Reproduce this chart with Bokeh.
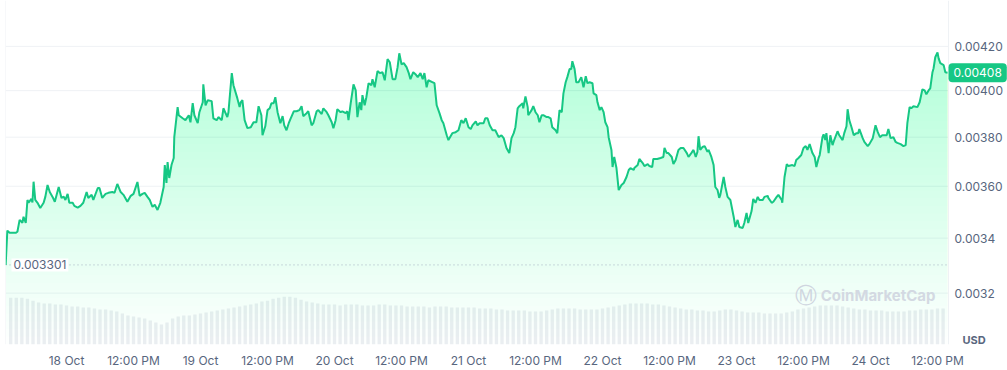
import numpy as np
from bokeh.plotting import figure
from bokeh.models import Range1d, LinearScale, FixedTicker, Span, Label
from bokeh.core.properties import value
from bokeh.embed import file_html
from bokeh.resources import INLINE

# ---- data (hours since 18 Oct 00:00, price in USD) ----
times = [-10.9,-10.6,-10.2,-9.1,-8.8,-8.4,-7.9,-7.7,-7.3,-7.0,-6.8,-6.3,-6.1,-5.9,-5.6,-5.2,-4.7,-4.1,-3.8,-3.4,-3.0,-2.5,-2.1,-1.4,-0.9,-0.5,-0.2,0.2,0.5,1.1,1.4,2.0,2.5,3.0,3.6,3.9,4.5,4.8,5.6,5.9,6.4,7.0,7.5,8.2,8.6,9.1,9.7,10.2,10.9,11.5,12.0,12.7,13.1,13.6,14.0,14.5,14.9,15.4,15.8,16.3,16.8,17.4,17.6,17.9,18.1,18.4,18.8,19.2,19.3,19.9,20.1,20.8,21.3,21.9,22.2,22.6,22.9,23.5,23.8,24.4,24.5,24.9,25.3,26.0,26.3,26.9,27.2,27.8,28.1,28.8,29.0,29.6,29.9,30.6,31.0,31.2,31.5,31.9,32.4,33.0,33.5,34.0,34.4,34.9,35.1,35.6,36.0,36.4,36.7,37.1,37.4,37.8,38.3,38.7,39.0,39.4,39.8,40.1,40.7,41.2,41.7,42.1,42.4,43.0,43.3,43.9,44.2,44.8,45.1,45.7,46.0,46.6,46.9,47.5,47.8,48.2,48.5,49.1,49.4,50.0,50.3,50.5,50.9,51.4,51.8,52.1,52.5,52.8,53.0,53.4,53.7,54.1,54.6,54.8,55.2,55.7,56.1,56.6,57.0,57.5,57.9,58.4,58.9,59.3,59.6,60.0,60.4,60.9,61.3,61.6,62.1,62.5,62.9,63.4,63.8,64.1,64.5,64.8,65.6,65.9,66.3,66.8,67.2,67.5,68.1,68.4,69.1,69.7,70.2,70.7,71.1,71.5,72.0,72.4,72.7,73.3,73.6,74.0,74.7,75.0,75.4,75.8,76.3,76.8,77.4,77.9,78.3,78.8,79.3,79.7,80.1,80.4,80.8,81.1,81.7,81.8,82.2,82.6,82.7,83.3,83.6,84.0,84.4,84.7,85.1,85.4,86.0,86.3,86.7,87.0,87.6,87.9,88.3,88.7,89.0,89.4,89.7,90.1,90.4,90.6,91.0,91.3,91.7,92.2,92.6,93.0,93.3,93.7,94.2,94.4,94.9,95.1,95.5,95.8,96.2,96.5,96.9,97.1,97.6,97.8,98.1,98.5,98.9,99.4,99.8,100.3,100.7,101.0,101.6,101.7,102.3,102.6,103.2,103.5,104.1,104.4,104.9,105.1,105.8,106.4,106.9,107.1,107.5,107.8,108.4,108.7,109.1,109.6,110.0,110.5,111.1,111.4,111.9,112.3,112.7,113.0,113.2,113.5,113.9,114.3,114.8,115.0,115.5,115.9,116.2,116.6,116.9,117.1,117.7,118.0,118.4,118.9,119.5,119.8,120.2,120.5,121.1,121.4,121.8,122.1,122.7,123.0,123.4,123.8,124.1,124.7,125.0,125.6,125.7,126.3,126.6,127.2,127.5,128.1,128.2,128.6,129.0,129.3,130.0,130.4,130.7,131.1,131.6,132.0,132.4,132.7,133.1,133.6,134.0,134.3,134.7,134.9,135.4,135.6,135.9,136.1,136.5,136.8,137.2,137.5,138.1,138.4,139.0,139.3,139.7,139.9,140.2,140.6,141.0,141.5,141.8,142.0,142.6,142.9,143.5,143.8,144.4,144.9,145.3,145.7,146.1,146.9,147.2,147.6,148.1,148.5,148.8,149.4,149.9,150.3,150.6,151.0,151.3,151.7,152.4,152.8,153.3,153.7,154.0,154.4,154.7,155.1,155.3,155.6,156.0,156.2,156.5,157.1,157.4,157.8]

price_micro = [3301,3428,3420,3420,3424,3469,3458,3481,3457,3546,3535,3550,3536,3618,3546,3535,3515,3535,3558,3605,3577,3558,3539,3597,3554,3559,3546,3570,3535,3535,3523,3516,3523,3535,3577,3554,3566,3546,3593,3593,3554,3570,3574,3577,3574,3609,3577,3566,3539,3562,3570,3617,3562,3570,3574,3558,3546,3519,3527,3507,3535,3597,3685,3613,3697,3633,3685,3714,3800,3928,3893,3880,3872,3893,3863,3945,3893,3859,3906,3949,4028,3936,3958,3954,3880,3872,3885,3872,3923,3885,3906,4078,4024,3966,3928,3949,3958,3872,3838,3842,3863,3863,3932,3893,3808,3846,3915,3923,3945,3945,3971,3906,3859,3889,3850,3829,3859,3876,3910,3910,3915,3932,3889,3902,3910,3850,3859,3910,3915,3898,3923,3906,3893,3863,3838,3872,3919,3906,3910,3902,3910,3872,3945,4028,4001,3885,3949,3915,3980,3936,3971,4033,4024,4051,4015,4087,4078,4082,4046,4141,4127,4051,4051,4105,4168,4118,4123,4105,4078,4051,4082,4073,4060,4078,4051,4078,4015,4046,4037,4033,3936,3902,3872,3859,3808,3788,3817,3821,3829,3872,3859,3880,3842,3834,3850,3867,3850,3859,3859,3880,3880,3850,3829,3829,3800,3808,3796,3755,3734,3796,3817,3842,3923,3932,3945,3923,3975,3928,3893,3915,3932,3906,3893,3863,3893,3893,3885,3885,3880,3842,3829,3817,3915,3906,3988,4037,4060,4096,4096,4132,4096,4037,4037,4060,4015,4064,4033,4037,4033,3988,3980,3949,3915,3928,3906,3863,3842,3800,3747,3677,3718,3673,3585,3605,3613,3637,3665,3673,3665,3673,3685,3710,3693,3681,3689,3681,3677,3710,3710,3714,3718,3755,3734,3734,3718,3689,3706,3747,3755,3755,3734,3718,3734,3747,3718,3739,3804,3747,3759,3763,3739,3747,3718,3685,3597,3585,3554,3566,3637,3597,3558,3546,3480,3442,3469,3442,3438,3457,3496,3457,3503,3550,3535,3558,3546,3546,3558,3562,3554,3535,3539,3558,3566,3546,3535,3637,3689,3681,3685,3681,3706,3714,3726,3755,3763,3747,3771,3734,3718,3677,3714,3726,3800,3812,3788,3817,3734,3808,3767,3788,3825,3808,3788,3817,3846,3919,3872,3842,3808,3817,3817,3834,3796,3780,3763,3771,3796,3850,3821,3800,3808,3808,3834,3796,3800,3780,3776,3771,3763,3767,3859,3928,3923,3932,3928,3949,4006,4001,3984,4001,4010,4082,4100,4150,4172,4145,4123,4114,4082,4080]

# hourly volume (relative units)
vol_times = list(range(-10, 158))
volume = [47,47,47,46,44,42,41,41,40,40,
          39,38,38,37,37,36,35,35,34,33,31,29,28,27,26,24,22,20,22,26,28,29,29,30,
          31,32,33,34,35,36,37,38,39,40,41,43,44,46,47,48,48,47,45,43,42,41,40,40,
          40,39,40,40,40,39,39,39,40,40,39,39,39,38,38,38,38,37,38,38,38,37,37,37,
          37,37,36,36,36,35,35,34,34,34,34,33,33,33,34,35,36,36,36,36,35,35,35,35,
          36,37,38,39,40,41,41,41,41,40,40,39,38,37,36,35,35,34,34,33,33,34,35,35,
          34,33,32,32,32,31,31,31,31,32,33,35,36,37,38,39,39,39,39,38,37,36,35,35,
          34,34,34,33,33,33,33,34,34,35,35,35,36,36]

open_price = 0.003301
last_price = 0.00408
currency = "USD"

x_ticks = [0, 12, 24, 36, 48, 60, 72, 84, 96, 108, 120, 132, 144, 156]
x_labels = ["18 Oct", "12:00 PM", "19 Oct", "12:00 PM", "20 Oct", "12:00 PM", "21 Oct",
            "12:00 PM", "22 Oct", "12:00 PM", "23 Oct", "12:00 PM", "24 Oct", "12:00 PM"]
y_ticks = [0.0032, 0.0034, 0.0036, 0.0038, 0.0040, 0.0042]
y_labels = ["0.0032", "0.0034", "0.00360", "0.00380", "0.00400", "0.00420"]

if len(times) != len(price_micro):
    raise SystemExit(f"length mismatch {len(times)} {len(price_micro)}")
if len(vol_times) != len(volume):
    raise SystemExit(f"vol length mismatch {len(vol_times)} {len(volume)}")

prices = np.array(price_micro) * 1e-6

GREEN = "#16c784"
GRAY = "#58667e"
GRID = "#eff2f5"
FONT = "Inter"

W, H = 1007, 370
BOTTOM = 25
x0, xe = -10.93, 157.97          # chart area (data time span)
x_right = x0 + (xe - x0) * (W - 5) / (948 - 5)   # frame extends over the price-scale gutter
y0, y1 = 0.0030238, 0.0044178
frame_h = H - BOTTOM

p = figure(width=W, height=H, output_backend="svg", toolbar_location=None,
           x_range=Range1d(x0, x_right), y_range=Range1d(y0, y1),
           y_axis_type="log", y_axis_location=None,
           min_border_left=5, min_border_right=0, min_border_top=0, min_border_bottom=BOTTOM)
p.outline_line_color = None
p.background_fill_color = "white"
p.border_fill_color = "white"

p.extra_y_ranges = {"vol": Range1d(0, frame_h)}
p.extra_y_scales = {"vol": LinearScale()}

p.xgrid.visible = False
p.ygrid.visible = False

# horizontal grid lines limited to the chart area
p.segment(x0=x0, x1=xe, y0=y_ticks, y1=y_ticks, line_color=GRID, line_width=1)

p.xaxis.ticker = FixedTicker(ticks=x_ticks)
p.xaxis.major_label_overrides = dict(zip(x_ticks, x_labels))
p.xaxis.axis_line_color = None
p.xaxis.major_tick_line_color = None
p.xaxis.minor_tick_line_color = None
p.xaxis.major_tick_out = 0
p.xaxis.major_tick_in = 0
p.xaxis.minor_tick_out = 0
p.xaxis.minor_tick_in = 0
p.xaxis.major_label_standoff = 8
p.xaxis.major_label_text_font = FONT
p.xaxis.major_label_text_font_size = "12px"
p.xaxis.major_label_text_color = GRAY

# volume bars
p.vbar(x=vol_times, top=volume, bottom=0, width=0.6, y_range_name="vol",
       fill_color="#eceef2", line_color=None)

# gradient area (stacked translucent bands)
levels = np.geomspace(y0, 0.00421, 40)
for L in levels:
    p.varea(x=times, y1=np.full(len(prices), L), y2=np.maximum(prices, L),
            fill_color=GREEN, fill_alpha=0.009)

# chart-area side lines
p.add_layout(Span(location=x0, dimension="height", line_color=GRID, line_width=1))
p.add_layout(Span(location=xe, dimension="height", line_color=GRID, line_width=1))

# open price dotted line
p.segment(x0=[x0], x1=[xe], y0=[open_price], y1=[open_price], line_color="#a6b0c3",
          line_width=1, line_dash="1 3")
p.add_layout(Label(x=x0, y=open_price, x_offset=6, text=f"{open_price:.6f}",
                   text_font=FONT, text_font_size="12px", text_color=GRAY,
                   text_baseline="middle", text_align="left",
                   background_fill_color="white", padding=2))

# price line
p.line(times, prices, line_color=GREEN, line_width=2)

# watermark
wm_y = 0.003191
p.add_layout(Label(x=xe, y=wm_y, x_offset=-143, text="Ⓜ", text_font="DejaVu Sans",
                   text_font_size="22px", text_color="#cfd5df", text_align="center",
                   text_baseline="middle"))
p.add_layout(Label(x=xe, y=wm_y, x_offset=-13, text="CoinMarketCap", text_font=FONT,
                   text_font_size="15px", text_font_style="bold", text_color="#d3d9e2",
                   text_align="right", text_baseline="middle"))

# price scale labels (right gutter)
p.text(x=xe, y=y_ticks, text=y_labels, x_offset=6, text_font=value(FONT),
       text_font_size="12px", text_color=GRAY, text_align="left", text_baseline="middle")

# current price tag
p.add_layout(Label(x=xe, y=last_price, x_offset=0, text=f"{last_price:.5f}",
                   text_font=FONT, text_font_size="12px", text_color="white",
                   text_align="left", text_baseline="middle",
                   background_fill_color=GREEN, padding=5, border_radius=4))

# currency label
p.add_layout(Label(x=xe, y=y_ticks[0], x_offset=14, y_offset=-47, text=currency,
                   text_font=FONT, text_font_size="11px", text_font_style="bold",
                   text_color=GRAY, text_align="left", text_baseline="middle"))

open("out.html", "w").write(file_html(p, INLINE))
